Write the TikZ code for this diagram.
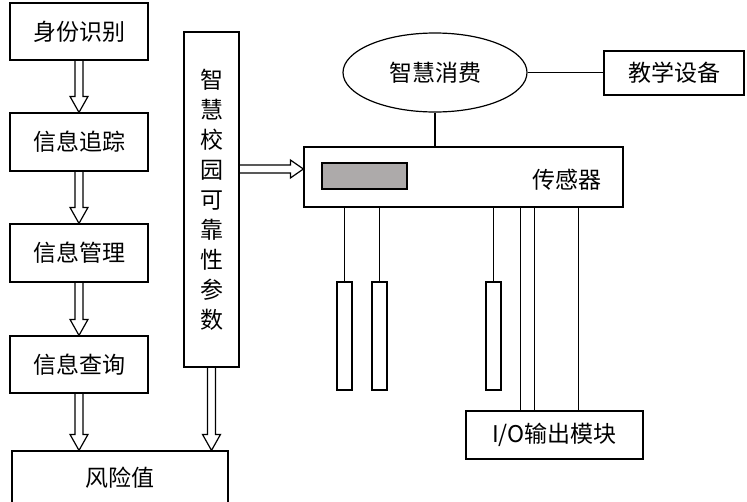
\documentclass[tikz,border=0pt]{standalone}
\usepackage{fontspec}
\setmainfont{Noto Sans CJK SC}
\usepackage{tikz}
\usetikzlibrary{shapes.geometric,calc}
\usepackage{xcolor}
\definecolor{PanelGray}{HTML}{ADAAAA}

\newcommand{\downblock}[2]{%
  \draw let \p1=(#1), \p2=(#2) in
    (\x1-4pt,\y1) -- (\x1-4pt,\y2+16pt) -- (\x1-9pt,\y2+16pt) -- (\x1,\y2)
    -- (\x1+9pt,\y2+16pt) -- (\x1+4pt,\y2+16pt) -- (\x1+4pt,\y1);}
\newcommand{\rightblock}[2]{%
  \draw let \p1=(#1), \p2=(#2) in
    (\x1,\y1+4pt) -- (\x2-13pt,\y1+4pt) -- (\x2-13pt,\y1+9pt) -- (\x2,\y1)
    -- (\x2-13pt,\y1-9pt) -- (\x2-13pt,\y1-4pt) -- (\x1,\y1-4pt);}

\begin{document}
\begin{tikzpicture}[
    x=1pt, y=-1pt,
    every node/.style={
        draw,
        line width=1.2pt,
        inner sep=0pt,
        font=\fontsize{23}{30}\selectfont
    },
    every path/.style={
        line width=1.2pt
    }
]
\useasboundingbox (0,0) rectangle (747,501);

\node[minimum width=138pt, minimum height=57pt] (ident) at (79,31.5) {身份识别};
\node[minimum width=138pt, minimum height=58pt] (track) at (79,142) {信息追踪};
\node[minimum width=138pt, minimum height=58pt] (manage) at (79,253) {信息管理};
\node[minimum width=138pt, minimum height=57pt] (query) at (79,364.5) {信息查询};
\node[minimum width=216pt, minimum height=60pt] (risk) at (120,481) {};
\node[draw=none] (risklbl) at (120,478) {风险值};

\node[minimum width=55pt, minimum height=335pt, align=center] (param) at (211.5,199.5)
    {智\\慧\\校\\园\\可\\靠\\性\\参\\数};

\node[ellipse, minimum width=184pt, minimum height=79pt] (consume) at (435,72.5) {智慧消费};
\node[minimum width=140pt, minimum height=44pt] (teach) at (674,73) {教学设备};

\node[minimum width=319pt, minimum height=60pt] (sensor) at (463.5,177) {};
\node[draw=none] (sensorlbl) at (567,180) {传感器};
\node[fill=PanelGray, minimum width=85pt, minimum height=26pt] (panel) at (364.5,176) {};

\node[minimum width=15pt, minimum height=108pt] (probe1) at (344.5,336) {};
\node[minimum width=15pt, minimum height=108pt] (probe2) at (379.5,336) {};
\node[minimum width=15pt, minimum height=108pt] (probe3) at (493.5,336) {};

\node[minimum width=177pt, minimum height=48pt] (io) at (554.5,435) {I/O输出模块};

\downblock{ident.south}{track.north}
\downblock{track.south}{manage.north}
\downblock{manage.south}{query.north}
\downblock{query.south}{risk.north}
\downblock{param.south}{risk.north}
\rightblock{[yshift=30.5pt]param.east}{sensor.west}

\draw (consume.east) -- (consume.east -| teach.west);
\draw (consume.south) -- (consume.south |- sensor.north);

\draw (probe1.north) -- (probe1.north |- sensor.south);
\draw (probe2.north) -- (probe2.north |- sensor.south);
\draw (probe3.north) -- (probe3.north |- sensor.south);

\foreach \dx in {55,69,113}
    \draw ([xshift=\dx pt]io.north west) -- ([xshift=\dx pt]io.north west |- sensor.south);

\end{tikzpicture}
\end{document}
